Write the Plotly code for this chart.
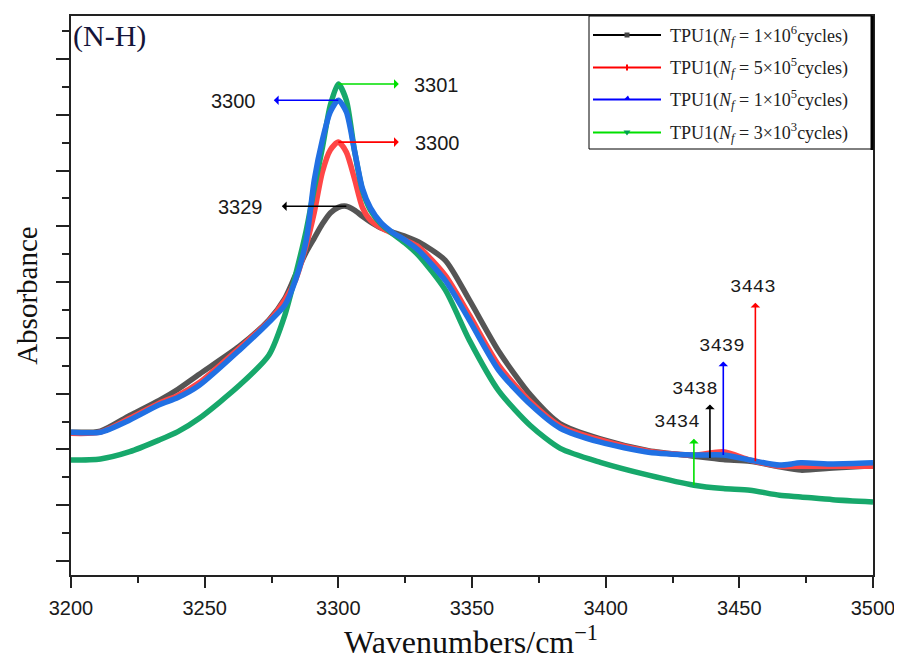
import numpy as np
import plotly.graph_objects as go

# ---------------- data ----------------
wavenumber = [3200, 3211, 3222, 3233, 3240, 3248, 3263, 3274,
              3280, 3284, 3288, 3291, 3294, 3297, 3300, 3303, 3306, 3309,
              3312, 3316, 3320, 3325, 3330,
              3340, 3349, 3360, 3372, 3383, 3398, 3416, 3433, 3444, 3454,
              3465, 3473, 3485, 3500]

# absorbance in arbitrary units (one major y tick = 1 unit)
abs_1e6 = [2.31, 2.33, 2.61, 2.88, 3.08, 3.35, 3.85, 4.32,
           4.71, 5.13, 5.54, 5.79, 6.04, 6.24, 6.34, 6.36, 6.29, 6.18,
           6.08, 5.97, 5.90, 5.82, 5.72,
           5.39, 4.68, 3.76, 2.97, 2.46, 2.19, 1.98, 1.88, 1.82, 1.79,
           1.69, 1.63, 1.67, 1.71]
abs_5e5 = [2.29, 2.31, 2.56, 2.83, 2.97, 3.20, 3.82, 4.30,
           4.68, 5.04, 5.66, 6.25, 6.97, 7.37, 7.51, 7.33, 6.86, 6.34,
           6.11, 5.97, 5.88, 5.75, 5.63,
           5.12, 4.41, 3.51, 2.85, 2.42, 2.17, 1.97, 1.90, 1.96, 1.81,
           1.70, 1.70, 1.70, 1.70]
abs_1e5 = [2.31, 2.31, 2.53, 2.80, 2.93, 3.15, 3.78, 4.28,
           4.59, 5.04, 5.75, 6.83, 7.54, 8.05, 8.26, 8.05, 7.37, 6.68,
           6.33, 6.06, 5.90, 5.75, 5.57,
           5.03, 4.32, 3.42, 2.80, 2.38, 2.13, 1.95, 1.90, 1.90, 1.81,
           1.72, 1.76, 1.74, 1.76]
abs_3e3 = [1.81, 1.83, 1.96, 2.17, 2.32, 2.56, 3.15, 3.69,
           4.41, 5.13, 5.93, 6.68, 7.40, 8.17, 8.55, 8.26, 7.37, 6.65,
           6.29, 6.04, 5.88, 5.70, 5.48,
           4.86, 3.96, 3.05, 2.42, 2.02, 1.77, 1.54, 1.36, 1.30, 1.27,
           1.18, 1.15, 1.10, 1.06]

series_names = ["TPU1(<i>N<sub>f</sub></i> = 1×10<sup>6</sup>cycles)",
                "TPU1(<i>N<sub>f</sub></i> = 5×10<sup>5</sup>cycles)",
                "TPU1(<i>N<sub>f</sub></i> = 1×10<sup>5</sup>cycles)",
                "TPU1(<i>N<sub>f</sub></i> = 3×10<sup>3</sup>cycles)"]
peak_labels = ["3329", "3300", "3300", "3301"]
band_labels = ["3438", "3443", "3439", "3434"]
band_positions = [3439, 3456, 3444, 3433]

x_ticks = [3200, 3250, 3300, 3350, 3400, 3450, 3500]

# ---------------- styling ----------------
curve_colors = ["#555555", "#ff4646", "#2170e3", "#17a86b"]
pure_colors = ["#000000", "#ff0000", "#0000ff", "#00e000"]
legend_symbols = ["square", "line", "triangle-up", "triangle-down"]

series = [abs_1e6, abs_5e5, abs_1e5, abs_3e3]
draw_order = [0, 1, 3, 2]

fig = go.Figure()
for i in draw_order:
    fig.add_trace(go.Scatter(
        x=wavenumber, y=series[i], mode="lines",
        line=dict(color=curve_colors[i], width=5.5, shape="spline", smoothing=0.7),
        showlegend=False, hoverinfo="skip"))

annotations = []

# horizontal peak arrows: (head dx, text dx) in pixels
peak_geom = [(-66, -106), (62, 99), (-66, -105), (62, 98)]
for i in range(4):
    k = int(np.argmax(series[i]))
    px, py = wavenumber[k], series[i][k]
    hdx, tdx = peak_geom[i]
    annotations.append(dict(
        x=px, y=py, xref="x", yref="y", text="", showarrow=True,
        ax=hdx, ay=0, arrowside="start", arrowhead=2, arrowsize=1.1,
        arrowwidth=1.6, arrowcolor=pure_colors[i],
        standoff=0, startstandoff=0))
    annotations.append(dict(
        x=px, y=py, xref="x", yref="y", text=peak_labels[i], showarrow=False,
        xshift=tdx, yshift=-1,
        font=dict(family="Liberation Sans", size=20, color="#1a1a1a")))

# vertical band arrows: (head dy, text dx, text dy) in pixels
band_geom = [(-55, -15, -69), (-160, -2, -174), (-95, -1, -109), (-48, -17, -63)]
for i in range(4):
    bx = band_positions[i]
    by = float(np.interp(bx, wavenumber, series[i]))
    hdy, tdx, tdy = band_geom[i]
    annotations.append(dict(
        x=bx, y=by, xref="x", yref="y", text="", showarrow=True,
        ax=0, ay=hdy, arrowside="start", arrowhead=2, arrowsize=1.1,
        arrowwidth=1.6, arrowcolor=pure_colors[i],
        standoff=0, startstandoff=0))
    annotations.append(dict(
        x=bx, y=by, xref="x", yref="y", text=band_labels[i], showarrow=False,
        xshift=tdx, yshift=-tdy,
        font=dict(family="Liberation Mono", size=19, color="#1a1a1a")))

# axis titles and panel label
annotations.append(dict(
    x=0.499, y=-0.116, xref="paper", yref="paper", showarrow=False,
    text="Wavenumbers/cm<sup>−1</sup>", xanchor="center", yanchor="middle",
    font=dict(family="Liberation Serif", size=32, color="#111111")))
annotations.append(dict(
    x=-0.055, y=0.501, xref="paper", yref="paper", showarrow=False,
    text="Absorbance", textangle=-90, xanchor="center", yanchor="middle",
    font=dict(family="Liberation Serif", size=29, color="#111111")))
annotations.append(dict(
    x=0.0, y=0.965, xref="paper", yref="paper", showarrow=False,
    text="(N-H)", xanchor="left", yanchor="middle",
    font=dict(family="Liberation Serif", size=30, color="#15153a")))

# ---------------- hand-built legend (paper coordinates) ----------------
# L, T: plot-area origin in screenshot pixels; W, H: plot-area size
L = 71.0; T = 16.0; W = 802.0; H = 559.0
def px2paper(xp, yp):
    return (xp - L) / W, 1 - (yp - T) / H

shapes = []
bx0, by0 = px2paper(589, 16)
bx1, by1 = px2paper(872, 149)
shapes.append(dict(type="rect", xref="paper", yref="paper", x0=bx0, y0=by1,
                   x1=bx1, y1=by0, line=dict(color="#000000", width=1),
                   fillcolor="white", layer="above"))
sx, sy0 = px2paper(872, 16)
_, sy1 = px2paper(872, 150)
shapes.append(dict(type="line", xref="paper", yref="paper", x0=sx, x1=sx,
                   y0=sy0, y1=sy1, line=dict(color="#000000", width=3),
                   layer="above"))
row_y = [35, 67.5, 99.5, 132.5]
for i in range(4):
    lx0, ly = px2paper(593, row_y[i])
    lx1, _ = px2paper(661, row_y[i])
    shapes.append(dict(type="line", xref="paper", yref="paper", x0=lx0, x1=lx1,
                       y0=ly, y1=ly, line=dict(color=pure_colors[i], width=2),
                       layer="above"))
    mx, _ = px2paper(627, row_y[i])
    if legend_symbols[i] == "square":
        shapes.append(dict(type="rect", xref="paper", yref="paper",
                           xsizemode="pixel", ysizemode="pixel",
                           xanchor=mx, yanchor=ly, x0=-2.5, x1=2.5, y0=-2.5, y1=2.5,
                           fillcolor="#444444", line=dict(width=0), layer="above"))
    elif legend_symbols[i] == "line":
        shapes.append(dict(type="line", xref="paper", yref="paper",
                           xsizemode="pixel", ysizemode="pixel",
                           xanchor=mx, yanchor=ly, x0=0, x1=0, y0=-3, y1=3,
                           line=dict(color=pure_colors[i], width=2), layer="above"))
    elif legend_symbols[i] == "triangle-up":
        shapes.append(dict(type="path", xref="paper", yref="paper",
                           xsizemode="pixel", ysizemode="pixel",
                           xanchor=mx, yanchor=ly, path="M -3 0 L 3 0 L 1 4 Z",
                           fillcolor=pure_colors[i], line=dict(width=0), layer="above"))
    else:
        shapes.append(dict(type="path", xref="paper", yref="paper",
                           xsizemode="pixel", ysizemode="pixel",
                           xanchor=mx, yanchor=ly, path="M -3.5 2 L 3.5 2 L 0 -3 Z",
                           fillcolor="#00a050", line=dict(width=0), layer="above"))
    tx, _ = px2paper(668, row_y[i])
    annotations.append(dict(x=tx, y=ly, xref="paper", yref="paper", showarrow=False,
                            text=series_names[i], xanchor="left", yanchor="middle",
                            font=dict(family="Liberation Serif", size=18, color="#222222")))

# the page body adds an 8px margin, so the figure is 8px smaller and margins shifted
fig.update_layout(
    width=894, height=651,
    margin=dict(l=63, r=29, t=8, b=84, autoexpand=False),
    paper_bgcolor="white", plot_bgcolor="white",
    showlegend=False,
    annotations=annotations,
    shapes=shapes,
)
fig.update_xaxes(
    range=[3200, 3500], tickvals=x_ticks, ticktext=[str(v) for v in x_ticks],
    ticks="outside", ticklen=11, tickwidth=1.5, tickcolor="#222222",
    minor=dict(ticks="outside", ticklen=6, tickwidth=1.5, tickcolor="#222222", dtick=25, tick0=3200),
    showline=True, linecolor="#222222", linewidth=1.8, mirror=True,
    showgrid=False, zeroline=False, automargin=False,
    tickfont=dict(family="Liberation Sans", size=20, color="#1a1a1a"),
    ticklabelstandoff=3,
)
fig.update_yaxes(
    range=[-0.25, 9.77], tick0=0, dtick=1, showticklabels=False,
    ticks="outside", ticklen=13, tickwidth=1.5, tickcolor="#222222",
    minor=dict(ticks="outside", ticklen=7, tickwidth=1.5, tickcolor="#222222", dtick=0.5, tick0=0),
    showline=True, linecolor="#222222", linewidth=1.8, mirror=True,
    showgrid=False, zeroline=False, automargin=False,
)

fig.write_html("out.html")
